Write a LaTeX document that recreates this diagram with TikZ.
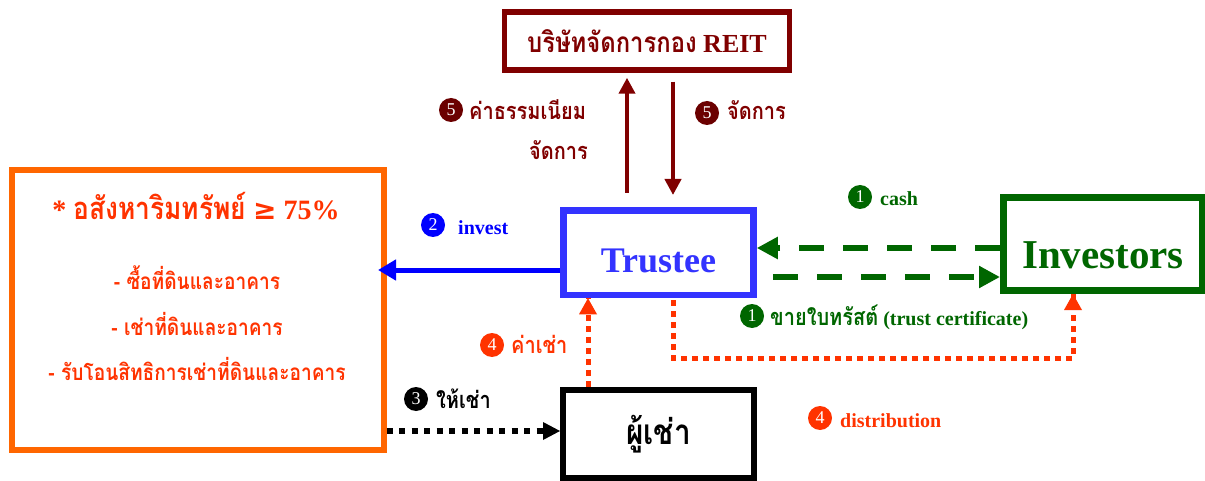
\documentclass[tikz,border=0pt]{standalone}
\usepackage{fontspec}
\setmainfont{Liberation Serif}
\newfontfamily\thai[Script=Thai, FakeStretch=0.85]{Loma}
\newfontfamily\symfont{DejaVu Sans}
\usetikzlibrary{arrows.meta}
\definecolor{reitred}{HTML}{800000}
\definecolor{numred}{HTML}{6B0000}
\definecolor{assetorange}{HTML}{FF6600}
\definecolor{textorange}{HTML}{FF3300}
\definecolor{trusteeblue}{HTML}{3333FF}
\definecolor{arrowblue}{HTML}{0000FF}
\definecolor{invgreen}{HTML}{006600}
\tikzset{
  box/.style={draw, rectangle, line width=6pt, inner sep=0pt, fill=white},
  num/.style={circle, fill=#1, text=white, inner sep=0pt, minimum size=24pt, font=\fontsize{18}{18}\selectfont},
  lbl/.style={anchor=base west, inner sep=0pt, font=\bfseries\fontsize{20}{22}\selectfont},
  thailbl/.style={anchor=base west, inner sep=0pt, font=\thai\bfseries\fontsize{23.5}{25}\selectfont},
  assetline/.style={anchor=base, inner sep=0pt, text=textorange, font=\thai\bfseries\fontsize{22.5}{24}\selectfont},
  solidarrow/.style={line width=4pt, -{Triangle[length=16pt,width=16pt]}},
  greendash/.style={draw=invgreen, line width=6pt, dash pattern=on 25pt off 19pt, -{Triangle[length=21pt,width=21pt]}},
  orangedot/.style={draw=textorange, line width=5pt, dash pattern=on 6pt off 5pt},
  blackdot/.style={draw=black, line width=6pt, dash pattern=on 6pt off 6.5pt},
}
\begin{document}
\begin{tikzpicture}[x=1pt,y=-1pt]
\useasboundingbox (0,0) rectangle (1205,481);

% boxes
\node[box, draw=reitred, line width=5.5pt, minimum width=285pt, minimum height=58pt,
      text=reitred, font=\bfseries\fontsize{26}{28}\selectfont] (reit) at (647,41)
      {{\thai\fontsize{28}{30}\selectfont บริษัทจัดการกอง} REIT};
\node[box, draw=assetorange, minimum width=371.5pt, minimum height=279.5pt] (asset) at (197.75,309.75) {};
\node[box, draw=trusteeblue, line width=6.5pt, minimum width=190pt, minimum height=84.5pt,
      text height=40pt, text depth=0pt,
      text=trusteeblue, font=\bfseries\fontsize{36}{38}\selectfont] (trustee) at (658.5,252.75) {Trustee};
\node[box, draw=invgreen, line width=7pt, minimum width=199pt, minimum height=93pt,
      text height=50pt, text depth=0pt,
      text=invgreen, font=\bfseries\fontsize{41}{43}\selectfont] (investors) at (1103,244) {Investors};
\node[box, draw=black, minimum width=191pt, minimum height=88pt,
      font=\thai\bfseries\fontsize{35}{37}\selectfont] (tenant) at (658.5,434) {ผู้เช่า};

% texts inside asset box
\node[anchor=base, inner sep=0pt, text=textorange, font=\bfseries\fontsize{28}{30}\selectfont] (atitle) at (196,220)
  {* {\thai\fontsize{31}{33}\selectfont อสังหาริมทรัพย์} {\symfont ≥} 75\%};
\node[assetline] (a1) at (197,290) {- ซื้อที่ดินและอาคาร};
\node[assetline] (a2) at (197,335) {- เช่าที่ดินและอาคาร};
\node[assetline] (a3) at (197,380) {- รับโอนสิทธิการเช่าที่ดินและอาคาร};

% maroon arrows
\coordinate (feeend) at (627,193);
\coordinate (mgmtend) at (673,195);
\draw[reitred, solidarrow, shorten >=5pt] (feeend) -- (reit.south -| feeend);
\draw[reitred, solidarrow, shorten <=9pt] (reit.south -| mgmtend) -- (mgmtend);

% blue invest arrow
\draw[arrowblue, line width=5pt, -{Triangle[length=18pt,width=20pt]}, shorten >=-8.5pt]
  (trustee.west |- 0,270) -- (asset.east |- 0,270);

% green dashed arrows
\draw[greendash] (investors.west |- 0,248) -- (trustee.east |- 0,248);
\draw[greendash, shorten <=16pt] (trustee.east |- 0,277) -- (investors.west |- 0,277);

% orange dotted
\coordinate (dbend) at (1073,358);
\draw[orangedot, shorten <=2pt] (trustee.south -| 673,0) |- (dbend) -- (investors.south -| dbend);
\fill[textorange] (investors.south -| dbend) -- ++(-9,16) -- ++(18,0) -- cycle;
\draw[orangedot] (tenant.north -| 588,0) -- (trustee.south -| 588,0);
\fill[textorange] (trustee.south -| 588,0) -- ++(-9,16) -- ++(18,0) -- cycle;

% black dotted
\draw[blackdot] (asset.east |- 0,431) -- (tenant.west |- 0,431);
\fill[black] (tenant.west |- 0,431) -- ++(-17,-9) -- ++(0,18) -- cycle;

% labels
\node[num=numred] (n5a) at (451,110) {5};
\node[thailbl, text=reitred] (l5a) at (469,120) {ค่าธรรมเนียม};
\node[thailbl, text=reitred] (l5b) at (529,160) {จัดการ};
\node[num=numred] (n5b) at (707,113) {5};
\node[thailbl, text=reitred] (l5c) at (727,120) {จัดการ};

\node[num=arrowblue] (n2) at (433,225) {2};
\node[lbl, text=arrowblue] (l2) at (458,235) {invest};

\node[num=invgreen] (n1a) at (860,197) {1};
\node[lbl, text=invgreen] (l1a) at (880,206) {cash};
\node[num=invgreen] (n1b) at (752,316) {1};
\node[lbl, text=invgreen] (l1b) at (770,325) {{\thai\fontsize{23.5}{25}\selectfont ขายใบทรัสต์} (trust certificate)};

\node[num=textorange] (n4a) at (492,345) {4};
\node[thailbl, text=textorange] (l4a) at (511,353) {ค่าเช่า};
\node[num=textorange] (n4b) at (820,418) {4};
\node[lbl, text=textorange] (l4b) at (840,427) {distribution};

\node[num=black] (n3) at (416,399) {3};
\node[thailbl, text=black] (l3) at (436,408) {ให้เช่า};
\end{tikzpicture}
\end{document}
